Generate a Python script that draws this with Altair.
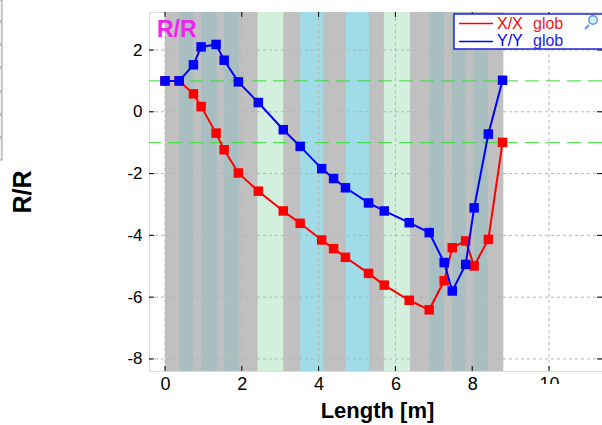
import altair as alt
import pandas as pd

# ---------------- data ----------------
length_m = [0, 0.37, 0.74, 0.94, 1.33, 1.54, 1.91, 2.43, 3.08, 3.52, 4.08, 4.39,
            4.70, 5.30, 5.71, 6.36, 6.88, 7.27, 7.48, 7.83, 8.05, 8.42, 8.79]
xx_glob = [1.0, 1.0, 0.58, 0.17, -0.69, -1.23, -1.98, -2.57, -3.21, -3.61, -4.15, -4.43,
           -4.71, -5.23, -5.61, -6.10, -6.41, -5.47, -4.40, -4.18, -4.99, -4.13, -0.99]
yy_glob = [1.0, 1.0, 1.52, 2.10, 2.18, 1.67, 0.97, 0.30, -0.58, -1.12, -1.84, -2.16,
           -2.46, -2.95, -3.21, -3.59, -3.91, -4.88, -5.80, -4.94, -3.11, -0.72, 1.02]

base_start = [0.0]
base_end = [8.81]
band_start = [0.37, 0.94, 1.54, 2.41, 3.52, 4.71, 5.70, 6.88, 7.47, 8.05]
band_end = [0.74, 1.35, 1.93, 3.08, 4.11, 5.31, 6.38, 7.27, 7.84, 8.40]
band_kind = ["t", "t", "t", "g", "c", "c", "g", "t", "t", "t"]

limit_lines = [1.0, -1.0]
x_ticks = [0, 2, 4, 6, 8, 10]
y_ticks = [-8, -6, -4, -2, 0, 2]

series_names = ["X/X", "Y/Y"]
series_colors = ["#ff0000", "#0000ff"]
panel_label = ["R/R"]

# ---------------- layout ----------------
W, H = 453, 359
FONT = "Liberation Sans"
xs = alt.Scale(domain=[-0.417, 11.38], nice=False, zero=False)
ys = alt.Scale(domain=[-8.39, 3.23], nice=False, zero=False)

df = pd.DataFrame({"L": length_m, "XX": xx_glob, "YY": yy_glob})
base_df = pd.DataFrame({"s": base_start, "e": base_end})
bands_df = pd.DataFrame({"s": band_start, "e": band_end, "k": band_kind})
lim_df = pd.DataFrame({"v": limit_lines})
xt_df = pd.DataFrame({"v": x_ticks})
yt_df = pd.DataFrame({"v": y_ticks})

x_axis = alt.Axis(values=x_ticks, grid=False, ticks=False, domain=False, labelFont=FONT,
                  labelFontSize=18, labelColor="black", labelPadding=4,
                  labelExpr="toString(datum.value)",
                  title="Length [m]", titleFont=FONT, titleFontSize=22, titleFontWeight="bold",
                  titleColor="black", titleX=228, titleY=46, titleBaseline="alphabetic",
                  titleAnchor="middle")
y_axis = alt.Axis(values=y_ticks, grid=False, ticks=False, domain=False, labelFont=FONT,
                  labelFontSize=17, labelColor="black", labelPadding=7,
                  labelExpr="toString(datum.value)",
                  title="R/R", titleFont=FONT, titleFontSize=25, titleFontWeight="bold",
                  titleColor="black", titleX=-127, titleY=179.5, titleAngle=-90,
                  titleAlign="center", titleBaseline="middle")

grey = alt.Chart(base_df).mark_rect(color="#c0c0c0").encode(
    x=alt.X("s:Q", scale=xs, axis=x_axis), x2="e:Q")
bands = alt.Chart(bands_df).mark_rect().encode(
    x=alt.X("s:Q", scale=xs), x2="e:Q",
    color=alt.Color("k:N", scale=alt.Scale(domain=["t", "g", "c"],
                                           range=["#a8bfc2", "#d3f0df", "#a0dce8"]),
                    legend=None))

vgrid = alt.Chart(xt_df).mark_rule(color="#b4b4b4", strokeDash=[3, 3], strokeWidth=1).encode(
    x=alt.X("v:Q", scale=xs))
hgrid = alt.Chart(yt_df).mark_rule(color="#b4b4b4", strokeDash=[3, 3], strokeWidth=1).encode(
    y=alt.Y("v:Q", scale=ys, axis=y_axis))

lims = alt.Chart(lim_df).mark_rule(color="#33dd33", strokeDash=[14, 7], strokeWidth=1).encode(
    y=alt.Y("v:Q", scale=ys))

red_line = alt.Chart(df).mark_line(color=series_colors[0], strokeWidth=2).encode(
    x=alt.X("L:Q", scale=xs), y=alt.Y("XX:Q", scale=ys))
red_pts = alt.Chart(df).mark_square(color=series_colors[0], size=90, opacity=1).encode(
    x=alt.X("L:Q", scale=xs), y=alt.Y("XX:Q", scale=ys))
blue_line = alt.Chart(df).mark_line(color=series_colors[1], strokeWidth=2).encode(
    x=alt.X("L:Q", scale=xs), y=alt.Y("YY:Q", scale=ys))
blue_pts = alt.Chart(df).mark_square(color=series_colors[1], size=90, opacity=1).encode(
    x=alt.X("L:Q", scale=xs), y=alt.Y("YY:Q", scale=ys))

# inward tick marks
tick_l = alt.Chart(yt_df).mark_rule(color="black").encode(
    y=alt.Y("v:Q", scale=ys), x=alt.value(0), x2=alt.value(5))
tick_r = alt.Chart(yt_df).mark_rule(color="black").encode(
    y=alt.Y("v:Q", scale=ys), x=alt.value(W - 5), x2=alt.value(W))
tick_b = alt.Chart(xt_df).mark_rule(color="black").encode(
    x=alt.X("v:Q", scale=xs), y=alt.value(H - 5), y2=alt.value(H))
tick_t = alt.Chart(xt_df).mark_rule(color="black").encode(
    x=alt.X("v:Q", scale=xs), y=alt.value(0), y2=alt.value(5))

label = alt.Chart(pd.DataFrame({"t": panel_label})).mark_text(
    font=FONT, fontSize=23, fontWeight="bold", color="#f022f0", align="left",
    baseline="alphabetic").encode(x=alt.value(8), y=alt.value(25), text="t:N")

# legend box
leg_box = alt.Chart(pd.DataFrame({"a": [0]})).mark_rect(
    fill="white", stroke="#2222dd", strokeWidth=1.5).encode(
    x=alt.value(305), x2=alt.value(470), y=alt.value(2), y2=alt.value(37))
leg_r_line = alt.Chart(pd.DataFrame({"a": [0]})).mark_rule(
    color=series_colors[0], strokeWidth=1.5).encode(
    x=alt.value(310), x2=alt.value(344), y=alt.value(11.5))
leg_b_line = alt.Chart(pd.DataFrame({"a": [0]})).mark_rule(
    color=series_colors[1], strokeWidth=1.5).encode(
    x=alt.value(310), x2=alt.value(344), y=alt.value(29.5))
leg_r_txt = alt.Chart(pd.DataFrame({"t": [series_names[0]]})).mark_text(
    font=FONT, fontSize=16, color=series_colors[0], align="left", baseline="alphabetic").encode(
    x=alt.value(348), y=alt.value(16.5), text="t:N")
leg_b_txt = alt.Chart(pd.DataFrame({"t": [series_names[1]]})).mark_text(
    font=FONT, fontSize=16, color=series_colors[1], align="left", baseline="alphabetic").encode(
    x=alt.value(348), y=alt.value(34), text="t:N")
leg_r_glob = alt.Chart(pd.DataFrame({"t": ["glob"]})).mark_text(
    font=FONT, fontSize=16, color="#ee2222", align="left", baseline="alphabetic").encode(
    x=alt.value(384), y=alt.value(16.5), text="t:N")
leg_b_glob = alt.Chart(pd.DataFrame({"t": ["glob"]})).mark_text(
    font=FONT, fontSize=16, color="#2222ee", align="left", baseline="alphabetic").encode(
    x=alt.value(384), y=alt.value(34), text="t:N")
magn = alt.Chart(pd.DataFrame({"a": [0]})).mark_point(
    shape="circle", size=70, filled=True, fill="#c8f5e6", stroke="#6a8ee8", strokeWidth=1.5,
    opacity=1).encode(x=alt.value(444), y=alt.value(8))
magn_h = alt.Chart(pd.DataFrame({"a": [0]})).mark_rule(color="#6a8ee8", strokeWidth=2).encode(
    x=alt.value(440), x2=alt.value(436), y=alt.value(13), y2=alt.value(17))

# overlay hiding the lower part of the "10" label (as in the reference)
cover = alt.Chart(pd.DataFrame({"a": [0]})).mark_rect(color="white").encode(
    x=alt.value(345), x2=alt.value(470), y=alt.value(372), y2=alt.value(420))

# fragment of a widget at the far left
frag_y = [-12, 10, 33, 56, 80, 103, 126]
frag_y2 = [9, 32, 55, 79, 102, 125, 148]
frag = alt.Chart(pd.DataFrame({"a": frag_y, "b": frag_y2})).mark_rect(
    fill="#f2f2f2", stroke="#9a9a9a", strokeWidth=1).encode(
    x=alt.value(-155), x2=alt.value(-147), y=alt.Y("a:Q", scale=None),
    y2=alt.Y2("b:Q"))

chart = alt.layer(
    grey, bands, vgrid, hgrid, lims, red_line, red_pts, blue_line, blue_pts,
    tick_l, tick_r, tick_b, tick_t, label,
    leg_box, leg_r_line, leg_b_line, leg_r_txt, leg_b_txt, leg_r_glob, leg_b_glob,
    magn, magn_h, cover, frag
).resolve_scale(color="independent").properties(
    width=W, height=H,
    autosize=alt.AutoSizeParams(type="none"),
    padding={"left": 149, "top": 12, "right": 0, "bottom": 54},
).configure_view(stroke="black", strokeWidth=2).configure(background="white")

chart.save("out.html", embed_options={"renderer": "svg", "actions": False})
